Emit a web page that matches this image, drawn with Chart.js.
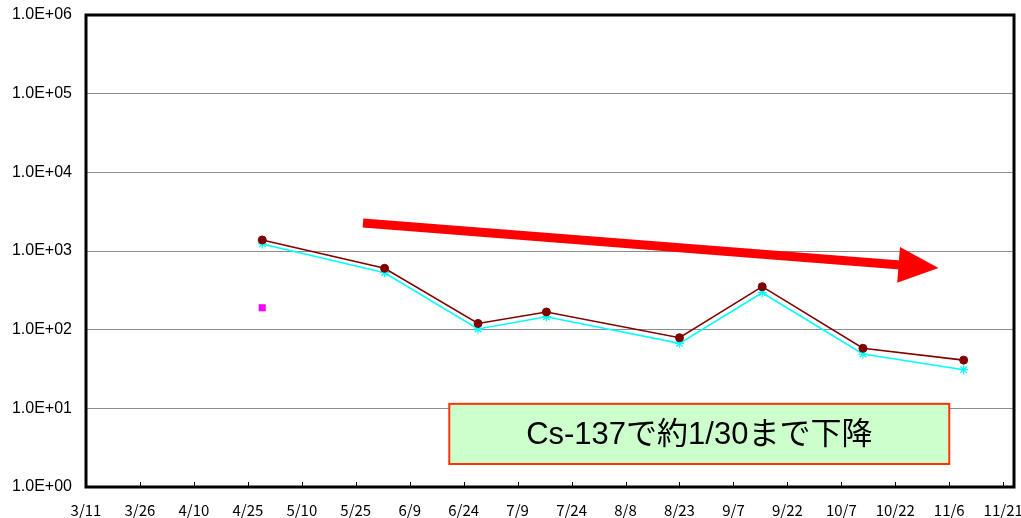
<!DOCTYPE html>
<html>
<head>
<meta charset="utf-8">
<script src="https://cdn.jsdelivr.net/npm/chart.js@4.4.0/dist/chart.umd.min.js"></script>
<style>
  body { margin: 0; background: #fff; }
  canvas { display: block; }
</style>
</head>
<body>
<canvas id="chart" width="1021" height="518"></canvas>
<script>
// Data
const xTickLabels = ['3/11', '3/26', '4/10', '4/25', '5/10', '5/25', '6/9', '6/24', '7/9',
                     '7/24', '8/8', '8/23', '9/7', '9/22', '10/7', '10/22', '11/6', '11/21'];
const yTickValues = [1, 10, 100, 1000, 10000, 100000, 1000000];
const sampleDates = ['4/29', '6/2', '6/28', '7/17', '8/23', '9/15', '10/13', '11/10'];
const seriesDark  = [1380, 603, 120, 168, 79, 352, 58, 41];
const seriesCyan  = [1230, 530, 102, 146, 67, 295, 49, 31];
const extraDates  = ['4/29'];
const extraValues = [190];
const xMaxDate = '11/24';
const boxText = 'Cs-137で約1/30まで下降';
// arrow & text box, in data coordinates (date, value)
const arrowFrom = ['5/27', 2270];
const arrowTo   = ['11/3', 608];
const boxFrom   = ['6/20', 11.4];
const boxTo     = ['11/6', 1.96];

// Helpers
const START = Date.UTC(2011, 2, 11);
function toDay(md) {
    const [m, d] = md.split('/').map(Number);
    return (Date.UTC(2011, m - 1, d) - START) / 86400000;
}
const pts = (dates, vals) => dates.map((d, i) => ({ x: toDay(d), y: vals[i] }));

// Plugin: frame, inner ticks, arrow and label box
const decorations = {
    id: 'decorations',
    afterDatasetsDraw(chart) {
        const { ctx, chartArea: a, scales: { x, y } } = chart;
        ctx.save();

        // arrow
        const x1 = x.getPixelForValue(toDay(arrowFrom[0])), y1 = y.getPixelForValue(arrowFrom[1]);
        const x2 = x.getPixelForValue(toDay(arrowTo[0])),   y2 = y.getPixelForValue(arrowTo[1]);
        const ang = Math.atan2(y2 - y1, x2 - x1);
        const headLen = 40, headHalf = 18;
        const bx = x2 - headLen * Math.cos(ang), by = y2 - headLen * Math.sin(ang);
        ctx.strokeStyle = '#ff0000';
        ctx.lineWidth = 9;
        ctx.beginPath();
        ctx.moveTo(x1, y1);
        ctx.lineTo(bx + 2 * Math.cos(ang), by + 2 * Math.sin(ang));
        ctx.stroke();
        ctx.fillStyle = '#ff0000';
        ctx.beginPath();
        ctx.moveTo(x2, y2);
        ctx.lineTo(bx - headHalf * Math.sin(ang), by + headHalf * Math.cos(ang));
        ctx.lineTo(bx + headHalf * Math.sin(ang), by - headHalf * Math.cos(ang));
        ctx.closePath();
        ctx.fill();

        // text box
        const l = x.getPixelForValue(toDay(boxFrom[0])), t = y.getPixelForValue(boxFrom[1]);
        const r = x.getPixelForValue(toDay(boxTo[0])),   b = y.getPixelForValue(boxTo[1]);
        ctx.fillStyle = '#ccffcc';
        ctx.fillRect(l, t, r - l, b - t);
        ctx.strokeStyle = '#ff3300';
        ctx.lineWidth = 2;
        ctx.strokeRect(l, t, r - l, b - t);
        ctx.fillStyle = '#000';
        ctx.font = '31px "Liberation Sans", "Noto Sans CJK JP", sans-serif';
        ctx.textAlign = 'center';
        ctx.textBaseline = 'middle';
        ctx.fillText(boxText, (l + r) / 2, (t + b) / 2 + 2);

        // inner tick marks on x axis
        ctx.strokeStyle = '#000';
        ctx.lineWidth = 1;
        xTickLabels.forEach(lbl => {
            const px = Math.round(x.getPixelForValue(toDay(lbl))) + 0.5;
            ctx.beginPath();
            ctx.moveTo(px, a.bottom);
            ctx.lineTo(px, a.bottom - 5);
            ctx.stroke();
        });

        // frame
        ctx.lineWidth = 3;
        ctx.strokeRect(a.left, a.top, a.right - a.left, a.bottom - a.top);
        ctx.restore();
    }
};

new Chart(document.getElementById('chart'), {
    type: 'line',
    data: {
        datasets: [
            {
                data: pts(sampleDates, seriesDark),
                borderColor: '#800000',
                backgroundColor: '#800000',
                borderWidth: 1.6,
                pointStyle: 'circle',
                pointRadius: 4,
                pointBorderWidth: 1,
                order: 1
            },
            {
                data: pts(sampleDates, seriesCyan),
                borderColor: '#00ffff',
                backgroundColor: '#00ffff',
                borderWidth: 1.6,
                pointStyle: 'star',
                pointRadius: 4.5,
                pointBorderWidth: 1.3,
                order: 2
            },
            {
                data: pts(extraDates, extraValues),
                showLine: false,
                borderColor: '#ff00ff',
                backgroundColor: '#ff00ff',
                pointStyle: 'rect',
                pointRadius: 5,
                pointBorderWidth: 0,
                order: 3
            }
        ]
    },
    options: {
        responsive: false,
        animation: false,
        layout: { padding: { top: 15, right: 7, left: 0, bottom: 0 } },
        plugins: { legend: { display: false }, tooltip: { enabled: false } },
        scales: {
            x: {
                type: 'linear',
                min: 0,
                max: toDay(xMaxDate),
                afterBuildTicks: s => { s.ticks = xTickLabels.map(l => ({ value: toDay(l) })); },
                afterFit: s => { s.height = 31; s.paddingLeft = 0; s.paddingRight = 0; },
                grid: { display: false, drawTicks: false },
                border: { display: false },
                ticks: {
                    autoSkip: false,
                    maxRotation: 0,
                    padding: 14,
                    color: '#000',
                    font: { family: '"Noto Sans CJK JP", sans-serif', size: 15 },
                    callback: (v, i) => xTickLabels[i]
                }
            },
            y: {
                type: 'logarithmic',
                min: 1,
                max: 1000000,
                afterBuildTicks: s => { s.ticks = yTickValues.map(v => ({ value: v })); },
                afterFit: s => { s.width = 86; s.paddingTop = 0; s.paddingBottom = 0; },
                grid: {
                    drawTicks: false,
                    lineWidth: 1,
                    color: c => (c.tick && (c.tick.value === 1 || c.tick.value === 1000000)) ? 'rgba(0,0,0,0)' : '#8c8c8c'
                },
                border: { display: false },
                ticks: {
                    padding: 14,
                    color: '#000',
                    font: { family: '"Liberation Sans", Arial, sans-serif', size: 16 },
                    callback: v => v.toExponential(1).toUpperCase().replace(/E([+-])(\d)$/, 'E$10$2')
                }
            }
        }
    },
    plugins: [decorations]
});
</script>
</body>
</html>
